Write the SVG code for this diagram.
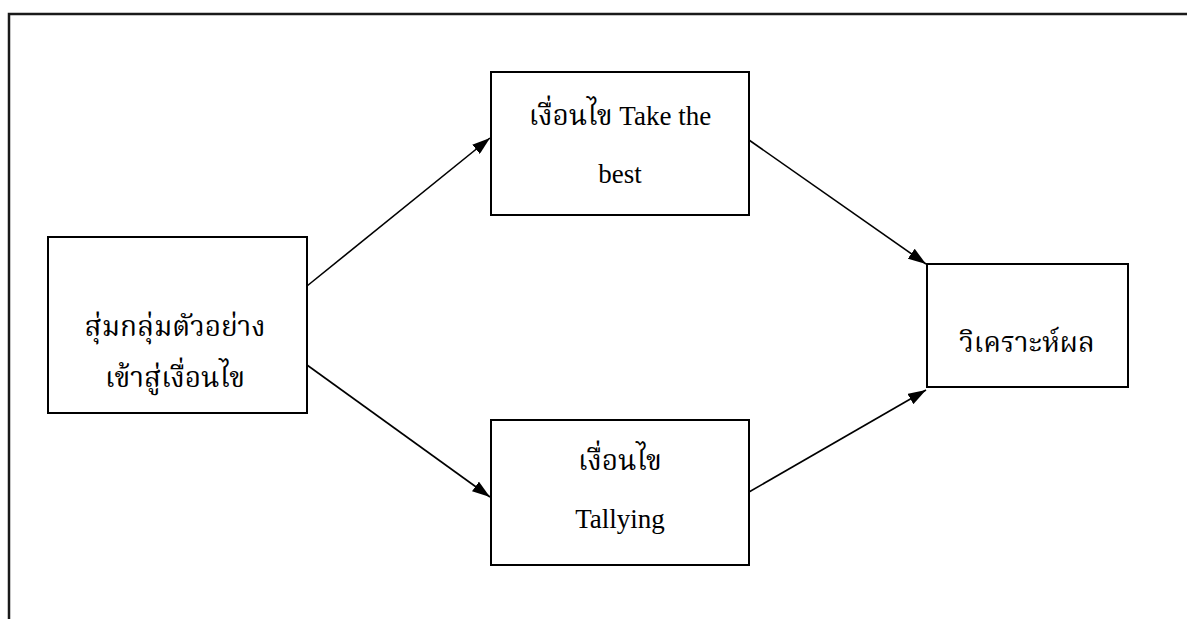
<svg xmlns="http://www.w3.org/2000/svg" width="1187" height="619" viewBox="0 0 1187 619">
<style>
.box{fill:#fff;stroke:#000;stroke-width:2}
.frame{fill:none;stroke:#1a1a1a;stroke-width:2.5}
.conn{stroke:#000;stroke-width:1.6;fill:none}
.t{font-family:"Liberation Serif","Noto Serif Thai","Noto Sans Thai","Loma","Garuda",serif;font-size:27px;fill:#000;text-anchor:middle}
.th{font-size:28px}
</style>
<defs>
<marker id="ah" viewBox="0 0 18 12" refX="18" refY="6" markerWidth="18" markerHeight="12" markerUnits="userSpaceOnUse" orient="auto">
<path d="M0,0 L18,6 L0,12 z" fill="#000"/>
</marker>
</defs>
<rect width="1187" height="619" fill="#fff"/>
<path class="frame" d="M9,619 V14 H1187"/>
<g id="connectors">
<line class="conn" x1="307" y1="286" x2="490" y2="138" marker-end="url(#ah)"/>
<line class="conn" x1="307" y1="365" x2="490" y2="497" marker-end="url(#ah)"/>
<line class="conn" x1="749" y1="140" x2="926" y2="264" marker-end="url(#ah)"/>
<line class="conn" x1="749" y1="492" x2="926" y2="390" marker-end="url(#ah)"/>
</g>
<g id="node-sample">
<rect class="box" x="48" y="237" width="259" height="176"/>
<text class="t th" x="175" y="336">สุ่มกลุ่มตัวอย่าง</text>
<text class="t th" x="175" y="387">เข้าสู่เงื่อนไข</text>
</g>
<g id="node-takethebest">
<rect class="box" x="491" y="72" width="258" height="143"/>
<text class="t" x="620" y="125"><tspan class="th">เงื่อนไข</tspan> Take the</text>
<text class="t" x="620" y="183">best</text>
</g>
<g id="node-tallying">
<rect class="box" x="491" y="420" width="258" height="145"/>
<text class="t th" x="620" y="470">เงื่อนไข</text>
<text class="t" x="620" y="528">Tallying</text>
</g>
<g id="node-analysis">
<rect class="box" x="927" y="264" width="201" height="123"/>
<text class="t th" x="1027" y="352">วิเคราะห์ผล</text>
</g>
</svg>
